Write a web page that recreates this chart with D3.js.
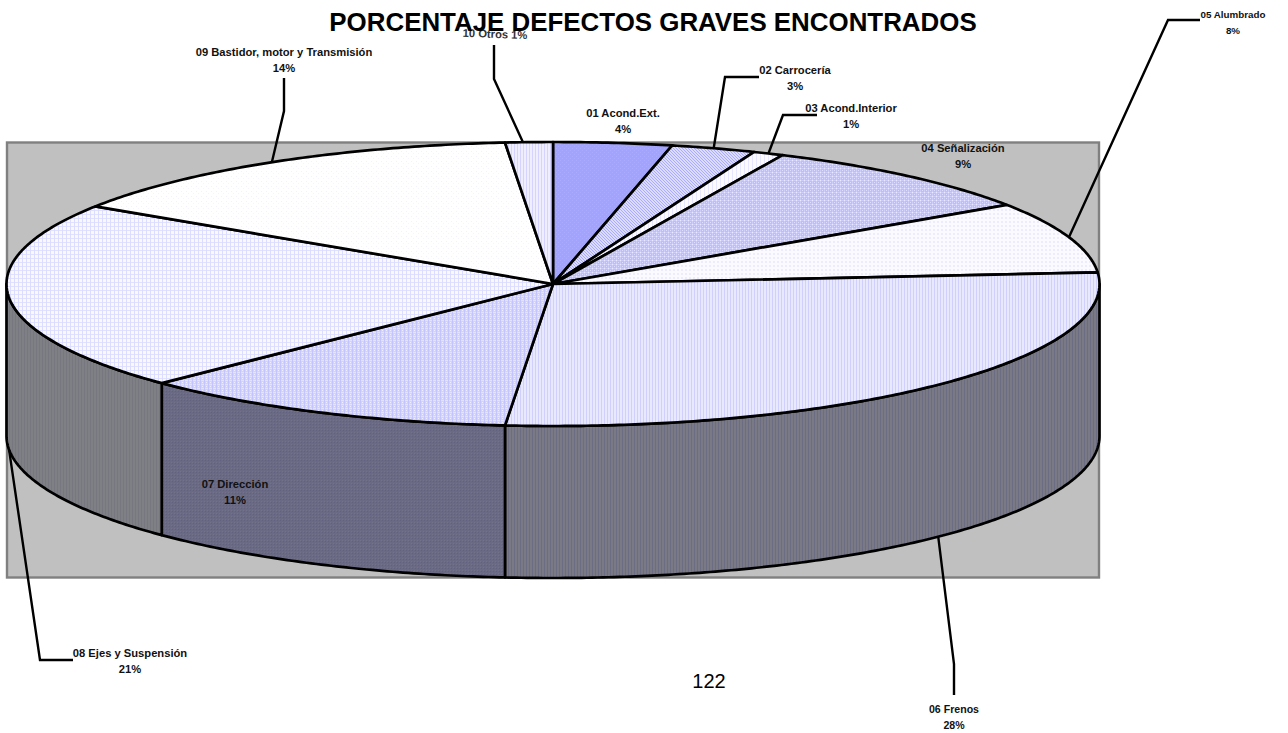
<!DOCTYPE html>
<html><head><meta charset="utf-8">
<style>html,body{margin:0;padding:0;background:#fff}svg{display:block}text{font-family:"Liberation Sans",Arial,sans-serif}</style>
<script src="https://cdn.jsdelivr.net/npm/d3@7/dist/d3.min.js"></script></head>
<body><script>
const titleText = "PORCENTAJE DEFECTOS GRAVES ENCONTRADOS";
const pageNumber = "122";
const categories = ["01 Acond.Ext.","02 Carrocería","03 Acond.Interior","04 Señalización","05 Alumbrado","06 Frenos","07 Dirección","08 Ejes y Suspensión","09 Bastidor, motor y Transmisión","10 Otros"];
const values = [3.5,2.5,0.9,8.7,8.1,27.7,11.3,21.5,14.4,1.4];
const percentLabels = ["4%","3%","1%","9%","8%","28%","11%","21%","14%","1%"];

// presentation
const W=1288,H=733, cx=553, cy=284, rx=546.5, ry=142, depth=152;
const labelPos = [[623,113],[795,70],[851,108],[963,148],[1233,14],[954,709],[235,484],[130,653],[284,52],[495,35]];
const labelSize = [11.2,11.2,11.2,11.2,9.8,10.6,11.2,11.2,11.2,11.2];
const elbows = [null,[[725,77],[759,77]],[[783,115],[817,115]],null,[[1168,20],[1200,20]],[[954,664],[954,695]],null,[[40,660],[73,660]],[[284,111],[284,78]],[[494,79],[494,45]]];
const anchorShift = [0,0,0,0,0,0,0,0,0,-6];
// tile: [size, background, [x,y,w,h,colour]...]
const topTiles = [
 [4,"#a2a2ff",[[0,0,1,1,"#acacff"],[2,2,1,1,"#acacff"]]],
 [3,"#dcdcff",[[0,0,1,1,"#aaaaff"],[1,1,1,1,"#aaaaff"],[2,2,1,1,"#aaaaff"]]],
 [4,"#fafaff",[[0,0,1,4,"#e6e6ff"]]],
 [4,"#bcbcff",[[0,0,4,1,"#ccccff"],[0,0,1,4,"#ccccff"],[2,2,1,1,"#dedeff"],[0,0,1,1,"#e8e8ff"]]],
 [4,"#fbfbff",[[1,1,2,2,"#ecebff"]]],
 [3,"#e8e8ff",[[1,0,1,3,"#d0d0ff"]]],
 [4,"#d2d2ff",[[0,0,4,1,"#e2e2ff"],[0,0,1,4,"#c4c4ff"],[2,2,1,1,"#eeeeff"]]],
 [4,"#f8f8ff",[[0,2,4,1,"#e0e0ff"],[2,0,1,4,"#dcdcff"]]],
 [5,"#ffffff",[[1,1,1,1,"#f2f2ff"],[3,3,1,1,"#f5f5ff"]]],
 [3,"#eeeeff",[[1,0,1,3,"#d4d4ff"]]]
];
const sideTiles = {
 5:[3,"#7a7a86",[[1,0,1,3,"#6c6c82"]]],
 6:[3,"#6a6a84",[[0,0,1,1,"#72728a"],[1,1,1,1,"#62627e"]]],
 7:[3,"#7f7f86",[[0,0,1,3,"#777780"]]]
};

const svg=d3.select("body").append("svg").attr("width",W).attr("height",H);
const defs=svg.append("defs");
function tile(id,t){
  const p=defs.append("pattern").attr("id",id).attr("patternUnits","userSpaceOnUse").attr("width",t[0]).attr("height",t[0]);
  p.append("rect").attr("width",t[0]).attr("height",t[0]).attr("fill",t[1]);
  t[2].forEach(r=>p.append("rect").attr("x",r[0]).attr("y",r[1]).attr("width",r[2]).attr("height",r[3]).attr("fill",r[4]));
}
topTiles.forEach((t,i)=>tile("t"+i,t));
Object.keys(sideTiles).forEach(k=>tile("s"+k,sideTiles[k]));

// plot background
svg.append("rect").attr("x",7).attr("y",142.5).attr("width",1092).attr("height",435)
  .attr("fill","#c0c0c0").attr("stroke","#808080").attr("stroke-width",2.4);

const arcs=d3.pie().sort(null).value(d=>d)(values);
const px=a=>cx+rx*Math.sin(a), py=a=>cy-ry*Math.cos(a);
const steps=(a,b)=>{const n=Math.max(2,Math.ceil(Math.abs(b-a)/0.01));return d3.range(n+1).map(i=>a+(b-a)*i/n);};
const line=d3.line();
const PI=Math.PI;

// side walls (front half only)
arcs.forEach((d,i)=>{
  const a=Math.max(d.startAngle,PI/2), b=Math.min(d.endAngle,3*PI/2);
  if(b<=a) return;
  const s=steps(a,b);
  const pts=s.map(t=>[px(t),py(t)]).concat(s.slice().reverse().map(t=>[px(t),py(t)+depth]));
  svg.append("path").attr("d",line(pts)+"Z").attr("fill",`url(#s${i})`).attr("stroke","#000").attr("stroke-width",2.7).attr("stroke-linejoin","round");
});
// top slices
arcs.forEach((d,i)=>{
  const pts=[[cx,cy]].concat(steps(d.startAngle,d.endAngle).map(t=>[px(t),py(t)]));
  svg.append("path").attr("d",line(pts)+"Z").attr("fill",`url(#t${i})`).attr("stroke","#000").attr("stroke-width",2.7).attr("stroke-linejoin","round");
});

// leaders
arcs.forEach((d,i)=>{
  if(!elbows[i]) return;
  const m=(d.startAngle+d.endAngle)/2;
  const front=m>PI/2&&m<3*PI/2;
  const start=[px(m)+anchorShift[i],py(m)+(front?depth:0)];
  svg.append("path").attr("d",line([start,...elbows[i]])).attr("fill","none").attr("stroke","#000").attr("stroke-width",2.4);
});

// labels
categories.forEach((c,i)=>{
  const [x,y]=labelPos[i];
  if(i===9){
    svg.append("text").attr("transform",`translate(${x},${y}) rotate(2)`).attr("text-anchor","middle").attr("dominant-baseline","middle")
      .attr("font-size",labelSize[i]).attr("font-weight","bold").attr("fill","#333").text(c+" "+percentLabels[i]);
    return;
  }
  const g=svg.append("g").attr("text-anchor","middle").attr("font-size",labelSize[i]).attr("font-weight","bold").attr("fill","#111");
  g.append("text").attr("x",x).attr("y",y+3.5).text(c);
  g.append("text").attr("x",x).attr("y",y+19.5).text(percentLabels[i]);
});

svg.append("text").attr("x",653).attr("y",31).attr("text-anchor","middle").attr("font-size",25.9).attr("font-weight","bold").attr("fill","#000").text(titleText);
svg.append("text").attr("x",709).attr("y",688).attr("text-anchor","middle").attr("font-size",20).attr("fill","#000").text(pageNumber);
</script></body></html>
